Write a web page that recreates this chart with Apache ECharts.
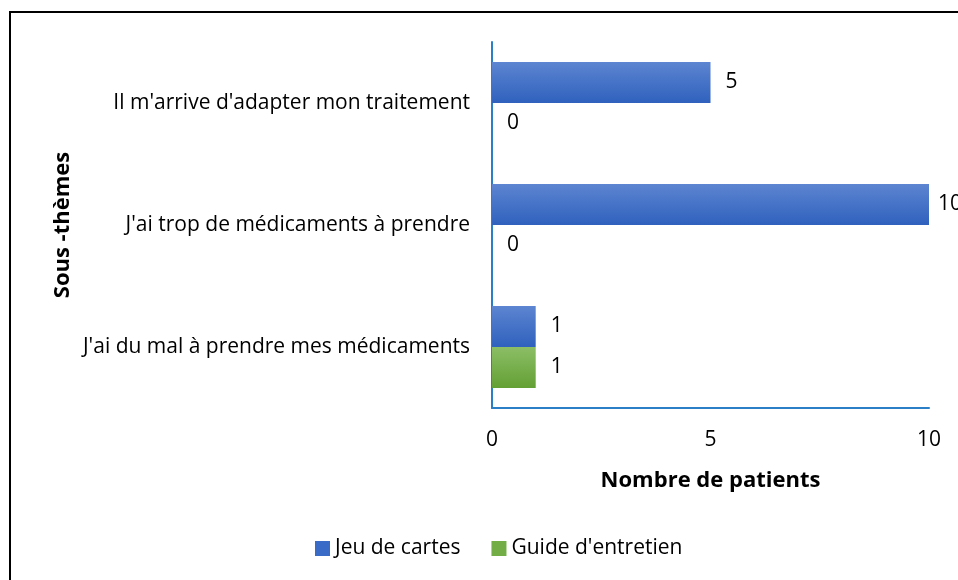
<!DOCTYPE html>
<html>
<head>
<meta charset="utf-8">
<script src="https://cdn.jsdelivr.net/npm/echarts@6/dist/echarts.min.js"></script>
<style>
  html, body { margin: 0; padding: 0; background: #fff; }
  #main { width: 958px; height: 580px; }
</style>
</head>
<body>
<div id="main"></div>
<script>
// categories, top to bottom
var categories = ["Il m'arrive d'adapter mon traitement", "J'ai trop de médicaments à prendre", "J'ai du mal à prendre mes médicaments"];
var jeuDeCartes = [5, 10, 1];
var guideEntretien = [0, 0, 1];
var seriesNames = ['Jeu de cartes', "Guide d'entretien"];

var font = 'Open Sans';
var chart = echarts.init(document.getElementById('main'));

function grad(top, bottom) {
  return new echarts.graphic.LinearGradient(0, 0, 0, 1, [
    { offset: 0, color: top },
    { offset: 1, color: bottom }
  ]);
}

var labelStyle = {
  show: true,
  position: 'right',
  distance: 15,
  color: '#000',
  fontFamily: font,
  fontSize: 21
};

// the label at the axis max sits a bit closer to its bar
function withLabels(values) {
  return values.map(function (v) {
    return v === 10 ? { value: v, label: { distance: 9 } } : v;
  });
}

chart.setOption({
  animation: false,
  textStyle: { fontFamily: font },
  graphic: [{
    type: 'rect',
    shape: { x: 10, y: 12, width: 980, height: 600 },
    style: { fill: 'none', stroke: '#000', lineWidth: 2 },
    silent: true
  }],
  grid: { left: 492, right: 29, top: 42, bottom: 172 },
  legend: {
    bottom: 16,
    left: 310,
    itemWidth: 15,
    itemHeight: 15,
    itemGap: 31,
    itemStyle: { borderWidth: 0 },
    icon: 'rect',
    textStyle: { fontFamily: font, fontSize: 21, color: '#000' },
    data: seriesNames
  },
  xAxis: {
    type: 'value',
    min: 0,
    max: 10,
    interval: 5,
    name: 'Nombre de patients',
    nameLocation: 'middle',
    nameGap: 62,
    nameTextStyle: { fontFamily: font, fontSize: 22, fontWeight: 'bold', color: '#000' },
    axisLine: { show: true, lineStyle: { color: '#2a7fc6', width: 2 } },
    axisTick: { show: false },
    axisLabel: { margin: 22, fontSize: 21, color: '#000', fontFamily: font },
    splitLine: { show: false }
  },
  yAxis: {
    type: 'category',
    inverse: true,
    data: categories,
    name: 'Sous -thèmes',
    nameLocation: 'middle',
    nameGap: 418,
    nameRotate: 90,
    nameTextStyle: { fontFamily: font, fontSize: 22, fontWeight: 'bold', color: '#000' },
    axisLine: { show: true, lineStyle: { color: '#2a7fc6', width: 2 } },
    axisTick: { show: false },
    axisLabel: { margin: 22, fontSize: 21, color: '#000', fontFamily: font }
  },
  series: [
    {
      name: seriesNames[0],
      type: 'bar',
      data: withLabels(jeuDeCartes),
      barWidth: 41,
      barGap: '0%',
      itemStyle: { color: grad('#5d85d1', '#2f61bd') },
      label: labelStyle
    },
    {
      name: seriesNames[1],
      type: 'bar',
      data: withLabels(guideEntretien),
      barWidth: 41,
      barGap: '0%',
      itemStyle: { color: grad('#8cbe66', '#63a034') },
      label: labelStyle
    }
  ]
});
// legend icons use flat colours
chart.setOption({ legend: { data: [
  { name: seriesNames[0], itemStyle: { color: '#3a6cc7' } },
  { name: seriesNames[1], itemStyle: { color: '#72ad45' } }
] } });
</script>
</body>
</html>
